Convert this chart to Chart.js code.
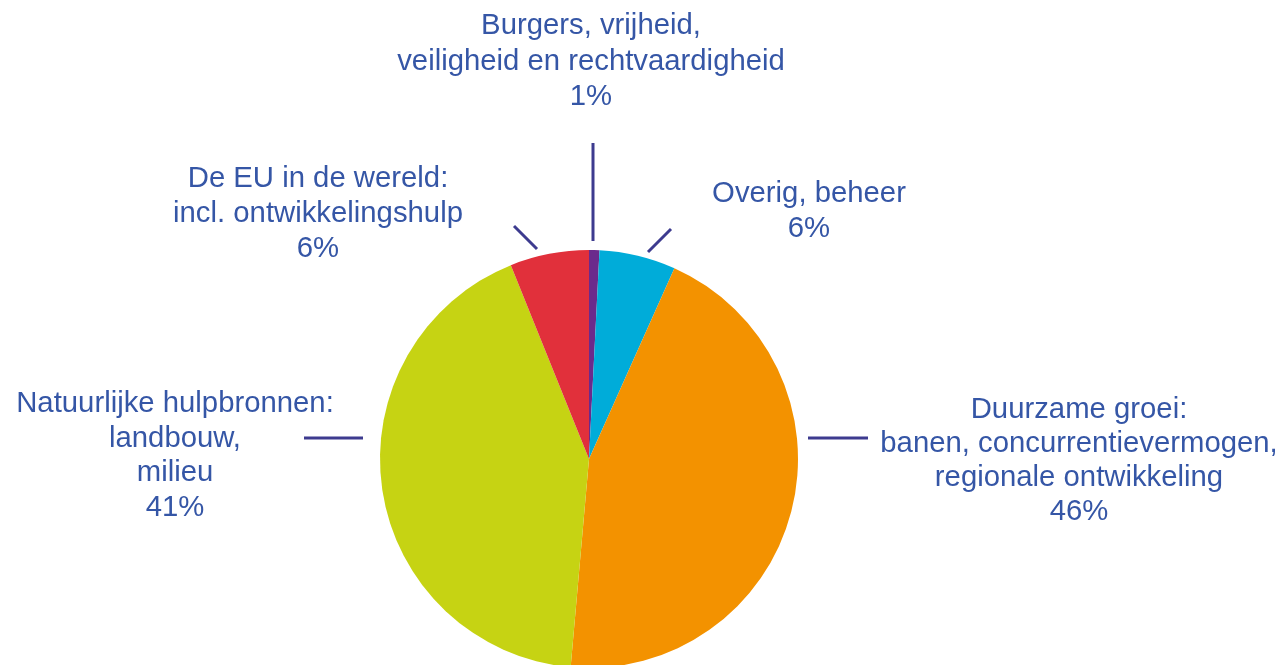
<!DOCTYPE html>
<html>
<head>
<meta charset="utf-8">
<script src="https://cdn.jsdelivr.net/npm/chart.js@4/dist/chart.umd.min.js"></script>
<style>
  html, body { margin: 0; padding: 0; background: #ffffff; overflow: hidden; }
  #wrap { width: 1281px; height: 665px; overflow: hidden; position: relative; }
  #c { display: block; }
</style>
</head>
<body>
<div id="wrap"><canvas id="c" width="1281" height="670"></canvas></div>
<script>
// ---- data ----
const categories = [
  ["Burgers, vrijheid,", "veiligheid en rechtvaardigheid"],
  ["Overig, beheer"],
  ["Duurzame groei:", "banen, concurrentievermogen,", "regionale ontwikkeling"],
  ["Natuurlijke hulpbronnen:", "landbouw,", "milieu"],
  ["De EU in de wereld:", "incl. ontwikkelingshulp"]
];
// slice sizes as drawn in the picture (labelled 1 / 6 / 46 / 41 / 6 %)
const shares = [0.8, 5.9, 44.7, 42.5, 6.1];
const percentLabels = ["1%", "6%", "46%", "41%", "6%"];
const sliceColors = ["#6b2a8c", "#00acd9", "#f39200", "#c6d313", "#e1303b"];

// ---- label layout (offsets relative to pie centre, px) ----
const labelLayout = [
  { line: [[4, -316], [4, -218]],   tx: 2,    ty: -425, lh: 35.5 },
  { line: [[59, -207], [82, -230]], tx: 220,  ty: -257, lh: 35 },
  { line: [[219, -21], [279, -21]], tx: 490,  ty: -41,  lh: 34 },
  { line: [[-285, -21], [-226, -21]], tx: -414, ty: -47, lh: 34.5 },
  { line: [[-75, -233], [-52, -210]], tx: -271, ty: -272, lh: 35 }
];

const labelPlugin = {
  id: 'pieLabels',
  afterDatasetsDraw(chart) {
    const ctx = chart.ctx;
    const meta = chart.getDatasetMeta(0);
    meta.data.forEach((arc, i) => {
      const cx = arc.x, cy = arc.y;
      const L = labelLayout[i];
      ctx.save();
      ctx.strokeStyle = '#3d3b8f';
      ctx.lineWidth = 3;
      ctx.beginPath();
      ctx.moveTo(cx + L.line[0][0], cy + L.line[0][1]);
      ctx.lineTo(cx + L.line[1][0], cy + L.line[1][1]);
      ctx.stroke();
      ctx.fillStyle = '#3556a6';
      ctx.font = '29.3px "Liberation Sans", Arial, sans-serif';
      ctx.textAlign = 'center';
      ctx.textBaseline = 'alphabetic';
      const lines = categories[i].concat([percentLabels[i]]);
      lines.forEach((t, k) => {
        ctx.fillText(t, cx + L.tx, cy + L.ty + k * L.lh);
      });
      ctx.restore();
    });
  }
};

new Chart(document.getElementById('c'), {
  type: 'pie',
  data: {
    labels: categories.map(c => c.join(' ')),
    datasets: [{
      data: shares,
      backgroundColor: sliceColors,
      borderWidth: 0,
      hoverOffset: 0
    }]
  },
  options: {
    responsive: false,
    animation: false,
    events: [],
    layout: { padding: { left: 380, right: 483, top: 250, bottom: 2 } },
    plugins: {
      legend: { display: false },
      tooltip: { enabled: false },
      title: { display: false }
    }
  },
  plugins: [labelPlugin]
});
</script>
</body>
</html>
